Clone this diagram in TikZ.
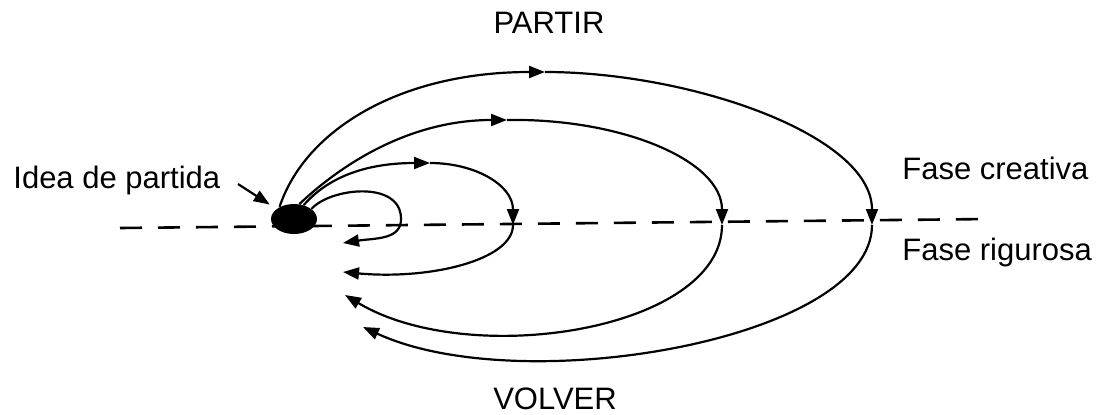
\documentclass[tikz,border=0pt]{standalone}
\usepackage{fontspec}
\setmainfont{Liberation Sans}
\usetikzlibrary{shapes.geometric, arrows.meta}

\begin{document}
\begin{tikzpicture}[x=0.5pt, y=-0.5pt,
            lbl/.style={inner sep=0pt, font=\fontsize{15.5}{18}\selectfont},
            flow/.style={draw=black, line width=1.1pt, -{Triangle[length=8pt,width=6pt]}},
            cut/.style={draw=black, line width=1.3pt, dash pattern=on 11pt off 8pt}]
            \useasboundingbox (0,0) rectangle (1099,414);
            \coordinate (cutL) at (120,228);
            \coordinate (cutR) at (990,219);
            \draw[cut] (cutL)--(cutR);
            \node[ellipse, fill=black, minimum width=23pt, minimum height=15pt, inner sep=0pt] (idea) at (294,219) {};
            \node[lbl, anchor=base west] (ideaLbl) at (13,188)  {Idea de partida};
            \node[lbl, anchor=base]      (partir)  at (549,33)  {PARTIR};
            \node[lbl, anchor=base]      (volver)  at (555,409) {VOLVER};
            \node[lbl, anchor=base west] (creat)   at (902,179) {Fase creativa};
            \node[lbl, anchor=base west] (rigur)   at (902,260) {Fase rigurosa};
            \coordinate (ia) at (238,184);
            \coordinate (rA) at (401,218);  \coordinate (eA) at (343,243);
            \coordinate (tB) at (430,163);  \coordinate (rB) at (513,225);  \coordinate (eB) at (343,272);
            \coordinate (tC) at (507,120);  \coordinate (rC) at (722,225);  \coordinate (eC) at (345,295);
            \coordinate (tD) at (545,72);   \coordinate (rD) at (872,225);  \coordinate (eD) at (363,327);
            \draw[flow, shorten >=4pt] (ia)--(idea.150);
            \draw[flow] (idea.30) .. controls (330,188) and (400,180) .. (rA) .. controls (402,240) and (375,238) .. (eA);
            \draw[flow] (idea.55) .. controls (330,175) and (370,163) .. (tB);
            \draw[flow] (tB) .. controls (475,163) and (513,185) .. (rB);
            \draw[flow] (rB) .. controls (513,260) and (430,280) .. (eB);
            \draw[flow] (idea.70) .. controls (330,175) and (400,120) .. (tC);
            \draw[flow] (tC) .. controls (620,118) and (722,160) .. (rC);
            \draw[flow] (rC) .. controls (722,330) and (470,370) .. (eC);
            \draw[flow] (idea.140) .. controls (305,130) and (400,72) .. (tD);
            \draw[flow] (tD) .. controls (690,72) and (872,135) .. (rD);
            \draw[flow] (rD) .. controls (872,340) and (520,400) .. (eD);
        \end{tikzpicture}
\end{document}
